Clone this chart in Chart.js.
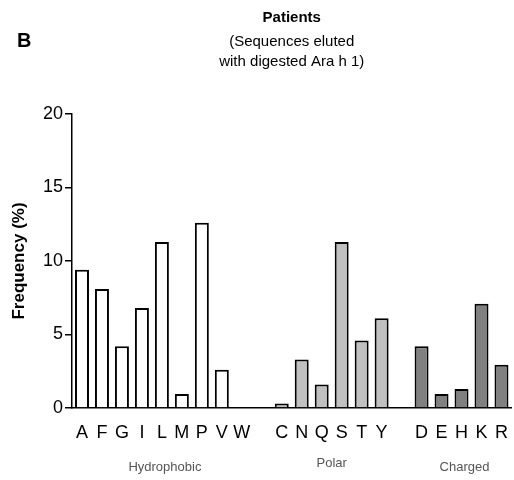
<!DOCTYPE html>
<html>
<head>
<meta charset="utf-8">
<script src="https://cdn.jsdelivr.net/npm/chart.js@4/dist/chart.umd.min.js"></script>
<style>
  html, body { margin: 0; padding: 0; background: #fff; }
  #wrap { width: 514px; height: 480px; position: relative; }
</style>
</head>
<body>
<div id="wrap"><canvas id="c"></canvas></div>
<script>
// amino acids, blanks separate the groups
const residues = ['A','F','G','I','L','M','P','V','W','','C','N','Q','S','T','Y','','D','E','H','K','R'];
const frequency = [9.4, 8.1, 4.2, 6.8, 11.3, 0.95, 12.6, 2.6, 0, null,
                   0.3, 3.3, 1.6, 11.3, 4.6, 6.1, null,
                   4.2, 0.95, 1.3, 7.1, 2.95];
const groupNames = ['Hydrophobic', 'Polar', 'Charged'];
const groupOf = [0,0,0,0,0,0,0,0,0,-1, 1,1,1,1,1,1,-1, 2,2,2,2,2];
const groupFill = ['#ffffff', '#c0c0c0', '#808080'];
const yTicks = [0, 5, 10, 15, 20];

const font = 'Arial, "Liberation Sans", sans-serif';

// draws panel letter, title and group names
const annotations = {
  id: 'annotations',
  afterDraw(chart) {
    const ctx = chart.ctx;
    const x = chart.scales.x;
    const area = chart.chartArea;
    const mid = (area.left + area.right) / 2;
    ctx.save();
    ctx.fillStyle = '#000';
    ctx.textAlign = 'center';
    ctx.textBaseline = 'middle';
    ctx.font = 'bold 15px ' + font;
    ctx.fillText('Patients', mid, 18);
    ctx.font = '15px ' + font;
    ctx.fillText('(Sequences eluted', mid, 42);
    ctx.fillText('with digested Ara h 1)', mid, 62);
    ctx.font = 'bold 20px ' + font;
    ctx.textAlign = 'left';
    ctx.fillText('B', 17, 41);

    // group labels under the letters
    ctx.font = '13px ' + font;
    ctx.fillStyle = '#555';
    ctx.textAlign = 'center';
    groupNames.forEach(function(name, g) {
      const idx = [];
      groupOf.forEach(function(v, i) { if (v === g) idx.push(i); });
      const cx = (x.getPixelForValue(idx[0]) + x.getPixelForValue(idx[idx.length - 1])) / 2;
      ctx.fillText(name, cx + (g === 1 ? 0 : 3), g === 1 ? 463 : 467);
    });
    ctx.restore();
  }
};

new Chart(document.getElementById('c'), {
  type: 'bar',
  data: {
    labels: residues,
    datasets: [{
      data: frequency,
      backgroundColor: groupOf.map(g => g < 0 ? 'transparent' : groupFill[g]),
      borderColor: '#000',
      borderWidth: 2,
      barPercentage: 0.7,
      categoryPercentage: 1.0
    }]
  },
  options: {
    responsive: true,
    maintainAspectRatio: false,
    animation: false,
    layout: { padding: { top: 114, right: 1, left: 0, bottom: 0 } },
    plugins: {
      legend: { display: false },
      tooltip: { enabled: false }
    },
    scales: {
      x: {
        grid: { display: false },
        border: { display: true, color: '#000', width: 1.5 },
        ticks: {
          color: '#000',
          font: { family: font, size: 18 },
          padding: 6,
          maxRotation: 0,
          autoSkip: false
        },
        afterFit: function(scale) { scale.height = 72; }
      },
      y: {
        min: 0,
        max: 20,
        afterBuildTicks: function(scale) {
          scale.ticks = yTicks.map(v => ({ value: v }));
        },
        grid: {
          drawOnChartArea: false,
          drawTicks: true,
          tickLength: 7,
          color: '#000',
          lineWidth: 1.5
        },
        border: { display: true, color: '#000', width: 1.5 },
        ticks: {
          color: '#000',
          font: { family: font, size: 18 },
          padding: 2
        },
        title: {
          display: true,
          text: 'Frequency (%)',
          color: '#000',
          font: { family: font, size: 17, weight: 'bold' },
          padding: { top: 9, bottom: 0 }
        },
        afterFit: function(scale) { scale.width = 72; }
      }
    }
  },
  plugins: [annotations]
});
</script>
</body>
</html>
